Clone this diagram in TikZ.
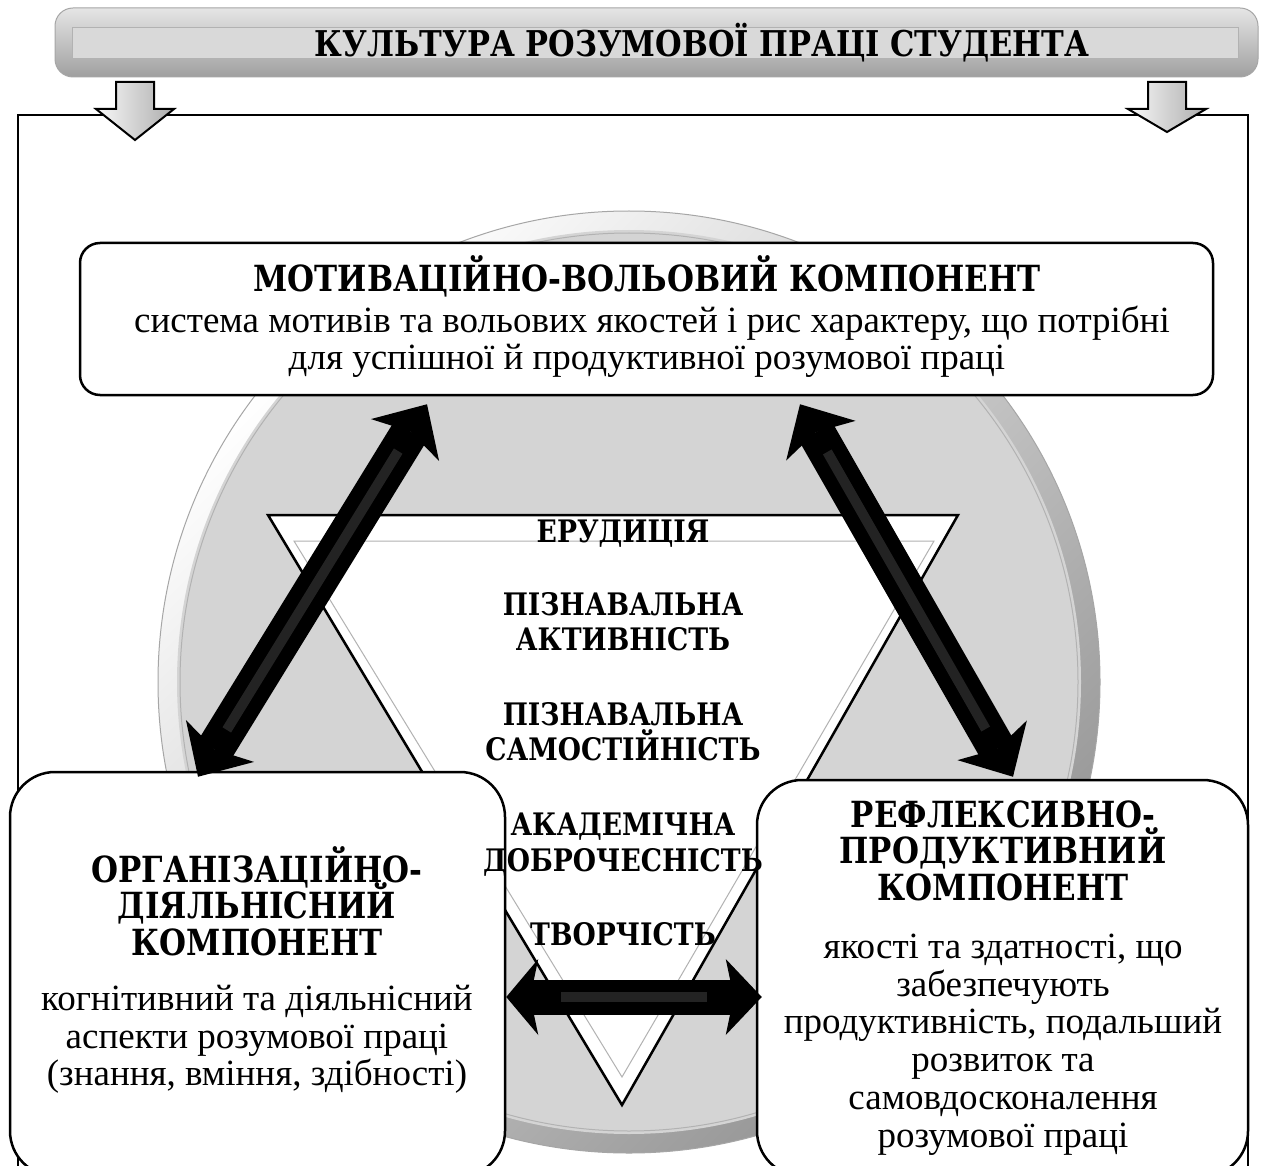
\documentclass[tikz,border=0pt]{standalone}
\usepackage{fontspec}
\setmainfont{Liberation Serif}
\newfontfamily\hdfont{DejaVu Serif}[FakeStretch=0.86]
\usetikzlibrary{arrows.meta}

\tikzset{
  compbox/.style={draw=black, line width=2.5pt, fill=white, inner sep=0pt},
  dblarrow/.style={line width=38pt, black,
    {Stealth[length=42pt,width=80pt,inset=10pt,line width=0pt]}-{Stealth[length=42pt,width=80pt,inset=10pt,line width=0pt]}},
  harrow/.style={line width=35pt, black,
    {Stealth[length=32pt,width=76pt,inset=8pt,line width=0pt]}-{Stealth[length=36pt,width=76pt,inset=8pt,line width=0pt]}},
  gloss/.style={postaction={draw, -, line width=10pt, gray!60, opacity=0.2, shorten <=55pt, shorten >=55pt}},
  titletext/.style={anchor=base, font=\hdfont\bfseries\fontsize{35.5}{35.5}\selectfont},
  headtext/.style={anchor=base, font=\hdfont\bfseries\fontsize{36}{36}\selectfont},
  bodytext/.style={anchor=base, font=\fontsize{37}{37}\selectfont},
  midtext/.style={anchor=base, font=\hdfont\bfseries\fontsize{31}{31}\selectfont},
}

\begin{document}
\begin{tikzpicture}[x=1pt,y=-1pt]
        \clip (0,0) rectangle (1261,1166);
        \fill[white] (0,0) rectangle (1261,1166);

        % Title banner
        \shade[top color=gray!20, bottom color=gray!75, draw=gray!70, line width=1pt, rounded corners=18pt] (55,8) rectangle (1258,77);
        \fill[gray!30, draw=gray!60, line width=0.8pt] (72,27) rectangle (1238,58);
        \node[titletext] (title) at (702,57) {КУЛЬТУРА РОЗУМОВОЇ ПРАЦІ СТУДЕНТА};

        % Frame
        \draw[line width=2.5pt] (18,1180) -- (18,115) -- (1248,115) -- (1248,1180);

        % Down arrows
        \foreach \x/\tip in {135/140, 1167/132} {
          \shade[left color=gray!5, right color=gray!65, draw=black, line width=2pt]
            (\x-19,82) -- (\x+19,82) -- (\x+19,109) -- (\x+39,109) -- (\x,\tip) -- (\x-39,109) -- (\x-19,109) -- cycle;
        }

        % Circle
        \shade[top color=white, bottom color=gray!85, shading angle=45, draw=gray!70, line width=1pt] (629,682) circle[radius=471];
        \fill[gray!34] (629,682) circle[radius=452];
        \draw[gray!60, line width=1pt] (629,682) circle[radius=449];

        % Triangle
        \filldraw[fill=white, draw=black, line width=2.5pt, line join=miter] (268,515) -- (958,515) -- (622,1105) -- cycle;
        \draw[gray!60, line width=1pt] (294,541) -- (934,541) -- (622,1077) -- cycle;

        % Components
        \node[compbox, rounded corners=20pt, minimum width=1133pt, minimum height=152pt] (mot) at (646.5,319) {};
        \node[compbox, rounded corners=45pt, minimum width=495pt, minimum height=404pt] (org) at (257.5,974) {};
        \node[compbox, rounded corners=45pt, minimum width=491pt, minimum height=396pt] (ref) at (1002.5,978) {};

        % Top component
        \node[headtext] (mot1) at (647,292) {МОТИВАЦІЙНО-ВОЛЬОВИЙ КОМПОНЕНТ};
        \node[bodytext] (mot2) at (652,332) {система мотивів та вольових якостей і рис характеру, що потрібні};
        \node[bodytext] (mot3) at (647,369) {для успішної й продуктивної розумової праці};

        % Centre
        \node[midtext] (q1) at (623,542) {ЕРУДИЦІЯ};
        \node[midtext] (q2) at (623,615) {ПІЗНАВАЛЬНА};
        \node[midtext] (q3) at (623,650) {АКТИВНІСТЬ};
        \node[midtext] (q4) at (623,725) {ПІЗНАВАЛЬНА};
        \node[midtext] (q5) at (623,760) {САМОСТІЙНІСТЬ};
        \node[midtext] (q6) at (623,835) {АКАДЕМІЧНА};
        \node[midtext] (q7) at (623,871) {ДОБРОЧЕСНІСТЬ};
        \node[midtext] (q8) at (623,945) {ТВОРЧІСТЬ};

        % Left component
        \node[headtext] (org1) at (257,882) {ОРГАНІЗАЦІЙНО-};
        \node[headtext] (org2) at (257,918) {ДІЯЛЬНІСНИЙ};
        \node[headtext] (org3) at (257,955) {КОМПОНЕНТ};
        \node[bodytext] (org4) at (257,1010) {когнітивний та діяльнісний};
        \node[bodytext] (org5) at (257,1048) {аспекти розумової праці};
        \node[bodytext] (org6) at (257,1085) {(знання, вміння, здібності)};

        % Right component
        \node[headtext] (ref1) at (1003,827) {РЕФЛЕКСИВНО-};
        \node[headtext] (ref2) at (1003,863) {ПРОДУКТИВНИЙ};
        \node[headtext] (ref3) at (1003,900) {КОМПОНЕНТ};
        \node[bodytext] (ref4) at (1003,958) {якості та здатності, що};
        \node[bodytext] (ref5) at (1003,996) {забезпечують};
        \node[bodytext] (ref6) at (1003,1033) {продуктивність, подальший};
        \node[bodytext] (ref7) at (1003,1071) {розвиток та};
        \node[bodytext] (ref8) at (1003,1109) {самовдосконалення};
        \node[bodytext] (ref9) at (1003,1147) {розумової праці};

        % Links
        \draw[dblarrow, gloss] ([xshift=-219.5pt,yshift=-8pt]mot.south) -- ([xshift=-59.5pt,yshift=-6pt]org.north);
        \draw[dblarrow, gloss] ([xshift=153.5pt,yshift=-8pt]mot.south) -- ([xshift=10.5pt,yshift=2pt]ref.north);
        \draw[harrow, gloss] ([yshift=-23pt]org.east) -- ([xshift=6pt,yshift=-19pt]ref.west);
\end{tikzpicture}
\end{document}
